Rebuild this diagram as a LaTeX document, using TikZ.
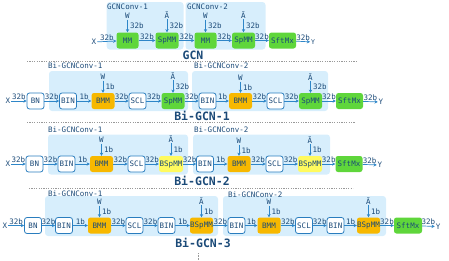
\documentclass[tikz,border=0pt]{standalone}
\usepackage{fontspec}
\setmonofont{DejaVu Sans Mono}
\usetikzlibrary{arrows.meta}
\definecolor{txt}{HTML}{1B4A78}
\definecolor{bblue}{HTML}{2A7DBE}
\definecolor{ablue}{HTML}{2E86C8}
\definecolor{grn}{HTML}{5FD63B}
\definecolor{org}{HTML}{F7B800}
\definecolor{ylw}{HTML}{FFFA5E}
\definecolor{bgc}{HTML}{D7EEFC}
\newcommand{\harr}[3]{\draw[arr] (#1) -- node[hl]{#3} (#2);}
\newcommand{\varr}[3]{\draw[arr] (#1) -- node[vl]{#3} (#2);}
\tikzset{
  every node/.style={font=\ttfamily\fontsize{7.5}{8}\selectfont, text=txt},
  base/.style={minimum height=16pt, inner sep=0pt, rounded corners=2.5pt},
  ob/.style={base, draw=bblue, fill=white, line width=0.8pt, minimum width=17pt},
  gb/.style={base, fill=grn},
  orb/.style={base, fill=org},
  yb/.style={base, fill=ylw},
  arr/.style={draw=ablue, line width=0.7pt, -{Stealth[length=3.2pt,width=3.4pt]}},
  hl/.style={midway, anchor=south, inner sep=0pt, yshift=0.8pt},
  vl/.style={midway, anchor=west, inner sep=0pt, xshift=2.2pt},
  lab/.style={inner sep=0.8pt},
  bgbox/.style={fill=bgc, rounded corners=3pt},
  ttl/.style={font=\ttfamily\bfseries\fontsize{11.5}{12}\selectfont},
  cl/.style={anchor=west, inner sep=0pt},
  sep/.style={draw=gray!80, line width=0.5pt, dash pattern=on 1.2pt off 1.2pt},
}
\begin{document}
\begin{tikzpicture}[x=1pt,y=-1pt]
\useasboundingbox (0,0) rectangle (449,260);
% ---------------- backgrounds
\fill[bgbox] (106.7,2) rectangle (183.5,49.5);
\fill[bgbox] (185.5,2) rectangle (265.5,49.5);
\fill[bgbox] (49,71) rectangle (188,111);
\fill[bgbox] (192,71) rectangle (328,111);
\fill[bgbox] (48,134.5) rectangle (188,174.5);
\fill[bgbox] (193,134.5) rectangle (330,174.5);
\fill[bgbox] (45,196) rectangle (218,236);
\fill[bgbox] (223,196) rectangle (386,236);
% ---------------- separators
\draw[sep] (27,61) -- (357,61);
\draw[sep] (27,122) -- (355,122);
\draw[sep] (29,188) -- (353,188);
\draw[gray!80, line width=0.5pt, dash pattern=on 0.8pt off 0.8pt] (198,253) -- (198,260);
% ================= Row 1: GCN
\node[cl] (c11) at (107,7) {GCNConv-1};
\node[cl] (c12) at (187,7) {GCNConv-2};
\node[lab] (x1) at (94,42) {X};
\node[gb, minimum width=22pt] (a1) at (127.5,40.5) {MM};
\node[gb, minimum width=23pt] (a2) at (167,40.5) {SpMM};
\node[gb, minimum width=22pt] (a3) at (205.5,40.5) {MM};
\node[gb, minimum width=23pt] (a4) at (243.5,40.5) {SpMM};
\node[gb, minimum width=27pt] (a5) at (282.5,40.5) {SftMx};
\node[lab, font=\ttfamily\fontsize{6.5}{7}\selectfont] (y1) at (313,42) {Y};
\node[lab] (w11) at (a1 |- 0,16) {W};
\node[lab] (t11) at (a2 |- 0,15) {Ã};
\node[lab] (w12) at (a3 |- 0,16) {W};
\node[lab] (t12) at (a4 |- 0,15) {Ã};
\harr{x1}{a1}{32b}
\harr{a1}{a2}{32b}
\harr{a2}{a3}{32b}
\harr{a3}{a4}{32b}
\harr{a4}{a5}{32b}
\harr{a5}{y1}{32b}
\varr{w11}{a1}{32b}
\varr{t11}{a2}{32b}
\varr{w12}{a3}{32b}
\varr{t12}{a4}{32b}
\node[ttl] (g1) at (193,55) {GCN};
% ================= Row 2: Bi-GCN-1
\node[cl] (c21) at (48,66) {Bi-GCNConv-1};
\node[cl] (c22) at (194,66) {Bi-GCNConv-2};
\node[lab] (x2) at (8,101) {X};
\node[ob] (b1) at (35.5,101) {BN};
\node[ob] (b2) at (68,101) {BIN};
\node[orb, minimum width=23pt] (b3) at (103,101) {BMM};
\node[ob] (b4) at (137.5,101) {SCL};
\node[gb, minimum width=23pt] (b5) at (173,101) {SpMM};
\node[ob] (b6) at (207.5,101) {BIN};
\node[orb, minimum width=23pt] (b7) at (240.5,101) {BMM};
\node[ob] (b8) at (275.5,101) {SCL};
\node[gb, minimum width=23pt] (b9) at (310.5,101) {SpMM};
\node[gb, minimum width=27pt] (b10) at (349.5,101) {SftMx};
\node[lab] (y2) at (381,102) {Y};
\node[lab] (w21) at (b3 |- 0,77) {W};
\node[lab] (t21) at (b5 |- 0,76) {Ã};
\node[lab] (w22) at (b7 |- 0,78) {W};
\node[lab] (t22) at (b9 |- 0,77) {Ã};
\harr{x2}{b1}{32b}
\harr{b1}{b2}{32b}
\harr{b2}{b3}{1b}
\harr{b3}{b4}{32b}
\harr{b4}{b5}{32b}
\harr{b5}{b6}{32b}
\harr{b6}{b7}{1b}
\harr{b7}{b8}{32b}
\harr{b8}{b9}{32b}
\harr{b9}{b10}{32b}
\harr{b10}{y2}{32b}
\varr{w21}{b3}{1b}
\varr{t21}{b5}{32b}
\varr{w22}{b7}{1b}
\varr{t22}{b9}{32b}
\node[ttl] (g2) at (202,116) {Bi-GCN-1};
% ================= Row 3: Bi-GCN-2
\node[cl] (c31) at (48,130) {Bi-GCNConv-1};
\node[cl] (c32) at (194,130) {Bi-GCNConv-2};
\node[lab] (x3) at (8,164) {X};
\node[ob] (d1) at (34.5,164) {BN};
\node[ob] (d2) at (66.5,164) {BIN};
\node[orb, minimum width=23pt] (d3) at (101.5,164) {BMM};
\node[ob] (d4) at (136.5,164) {SCL};
\node[yb, minimum width=24pt] (d5) at (171,164) {BSpMM};
\node[ob] (d6) at (205,164) {BIN};
\node[orb, minimum width=23pt] (d7) at (239,164) {BMM};
\node[ob] (d8) at (274.5,164) {SCL};
\node[yb, minimum width=24pt] (d9) at (310,164) {BSpMM};
\node[gb, minimum width=27pt] (d10) at (349,164) {SftMx};
\node[lab] (y3) at (380,165) {Y};
\node[lab] (w31) at (d3 |- 0,140) {W};
\node[lab] (t31) at (d5 |- 0,139) {Ã};
\node[lab] (w32) at (d7 |- 0,141) {W};
\node[lab] (t32) at (d9 |- 0,140) {Ã};
\harr{x3}{d1}{32b}
\harr{d1}{d2}{32b}
\harr{d2}{d3}{1b}
\harr{d3}{d4}{32b}
\harr{d4}{d5}{32b}
\harr{d5}{d6}{32b}
\harr{d6}{d7}{1b}
\harr{d7}{d8}{32b}
\harr{d8}{d9}{32b}
\harr{d9}{d10}{32b}
\harr{d10}{y3}{32b}
\varr{w31}{d3}{1b}
\varr{t31}{d5}{1b}
\varr{w32}{d7}{1b}
\varr{t32}{d9}{1b}
\node[ttl] (g3) at (202,181) {Bi-GCN-2};
% ================= Row 4: Bi-GCN-3
\node[cl] (c41) at (48,194) {Bi-GCNConv-1};
\node[cl] (c42) at (228,195) {Bi-GCNConv-2};
\node[lab] (x4) at (5,225.5) {X};
\node[ob] (e1) at (33,225.5) {BN};
\node[ob] (e2) at (64,225.5) {BIN};
\node[orb, minimum width=23pt] (e3) at (99.5,225.5) {BMM};
\node[ob] (e4) at (134.5,225.5) {SCL};
\node[ob] (e5) at (166.5,225.5) {BIN};
\node[orb, minimum width=23pt] (e6) at (201.5,225.5) {BSpMM};
\node[ob] (e7) at (236.5,225.5) {BIN};
\node[orb, minimum width=23pt] (e8) at (269,225.5) {BMM};
\node[ob] (e9) at (304,225.5) {SCL};
\node[ob] (e10) at (335.5,225.5) {BIN};
\node[orb, minimum width=23pt] (e11) at (368.5,225.5) {BSpMM};
\node[gb, minimum width=28pt] (e12) at (408,225.5) {SftMx};
\node[lab] (y4) at (438,226.5) {Y};
\node[lab] (w41) at (e3 |- 0,202) {W};
\node[lab] (t41) at (e6 |- 0,201) {Ã};
\node[lab] (w42) at (e8 |- 0,202) {W};
\node[lab] (t42) at (e11 |- 0,201) {Ã};
\harr{x4}{e1}{32b}
\harr{e1}{e2}{32b}
\harr{e2}{e3}{1b}
\harr{e3}{e4}{32b}
\harr{e4}{e5}{32b}
\harr{e5}{e6}{1b}
\harr{e6}{e7}{32b}
\harr{e7}{e8}{1b}
\harr{e8}{e9}{32b}
\harr{e9}{e10}{32b}
\harr{e10}{e11}{1b}
\harr{e11}{e12}{32b}
\harr{e12}{y4}{32b}
\varr{w41}{e3}{1b}
\varr{t41}{e6}{1b}
\varr{w42}{e8}{1b}
\varr{t42}{e11}{1b}
\node[ttl] (g4) at (203,243) {Bi-GCN-3};
\end{tikzpicture}
\end{document}
